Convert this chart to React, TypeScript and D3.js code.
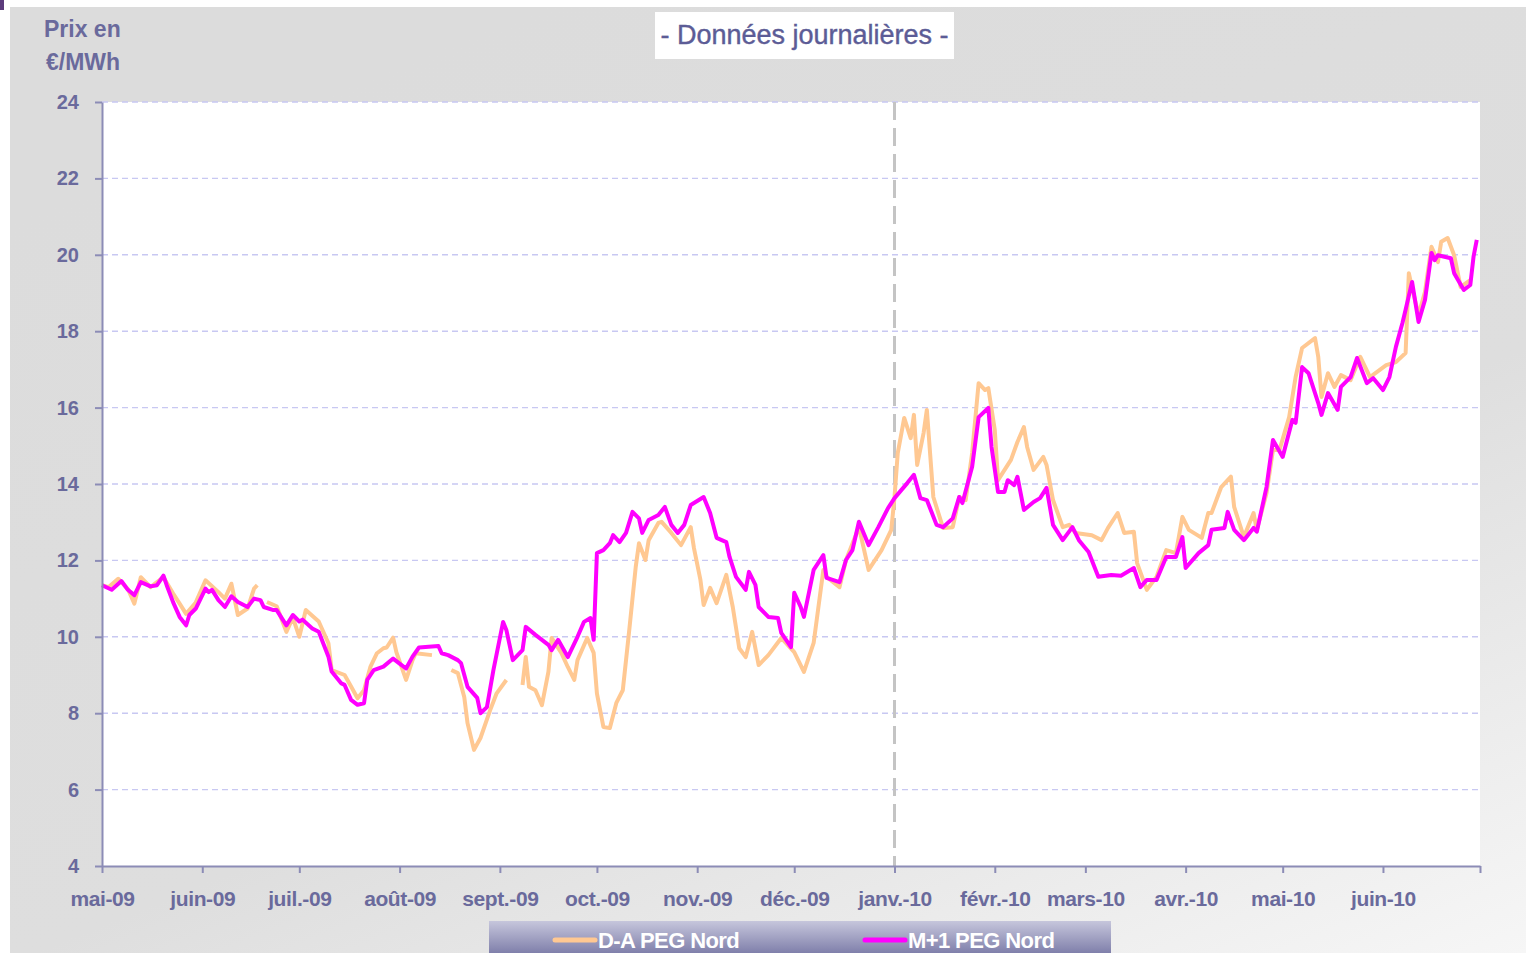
import * as d3 from "d3";
import { useEffect, useRef } from "react";

const yTicks = [4, 6, 8, 10, 12, 14, 16, 18, 20, 22, 24];
const monthTicks = [
  "2009-05-01", "2009-06-01", "2009-07-01", "2009-08-01", "2009-09-01", "2009-10-01", "2009-11-01",
  "2009-12-01", "2010-01-01", "2010-02-01", "2010-03-01", "2010-04-01", "2010-05-01", "2010-06-01",
];
const monthLabels = [
  "mai-09", "juin-09", "juil.-09", "août-09", "sept.-09", "oct.-09", "nov.-09",
  "déc.-09", "janv.-10", "févr.-10", "mars-10", "avr.-10", "mai-10", "juin-10",
];
const seriesNames = ["D-A PEG Nord", "M+1 PEG Nord"];

// D-A PEG Nord (null = gap in the series)
const daDates = [
  "2009-05-01", "2009-05-03", "2009-05-06", "2009-05-09", "2009-05-11", "2009-05-13", "2009-05-16", "2009-05-20",
  "2009-05-23", "2009-05-25", "2009-05-27", "2009-05-30", "2009-06-02", "2009-06-06", "2009-06-08", "2009-06-10",
  "2009-06-12", "2009-06-15", "2009-06-17", "2009-06-18", "2009-06-20", "2009-06-21", "2009-06-24", "2009-06-27",
  "2009-06-29", "2009-07-01", "2009-07-03", "2009-07-07", "2009-07-10", "2009-07-11", "2009-07-15", "2009-07-17",
  "2009-07-19", "2009-07-21", "2009-07-23", "2009-07-25", "2009-07-27", "2009-07-28", "2009-07-30", "2009-07-31",
  "2009-08-03", "2009-08-05", "2009-08-06", "2009-08-11", "2009-08-13", "2009-08-17", "2009-08-19", "2009-08-21",
  "2009-08-22", "2009-08-24", "2009-08-26", "2009-08-29", "2009-08-31", "2009-09-03", "2009-09-05", "2009-09-08",
  "2009-09-09", "2009-09-10", "2009-09-12", "2009-09-14", "2009-09-16", "2009-09-17", "2009-09-20", "2009-09-22",
  "2009-09-24", "2009-09-25", "2009-09-28", "2009-09-30", "2009-10-01", "2009-10-03", "2009-10-05", "2009-10-07",
  "2009-10-09", "2009-10-11", "2009-10-13", "2009-10-14", "2009-10-16", "2009-10-17", "2009-10-20", "2009-10-21",
  "2009-10-24", "2009-10-27", "2009-10-30", "2009-10-31", "2009-11-02", "2009-11-03", "2009-11-05", "2009-11-07",
  "2009-11-10", "2009-11-12", "2009-11-14", "2009-11-16", "2009-11-18", "2009-11-20", "2009-11-23", "2009-11-27",
  "2009-12-01", "2009-12-04", "2009-12-07", "2009-12-10", "2009-12-11", "2009-12-15", "2009-12-17", "2009-12-21",
  "2009-12-24", "2009-12-28", "2009-12-31", "2010-01-01", "2010-01-02", "2010-01-04", "2010-01-06", "2010-01-07",
  "2010-01-08", "2010-01-10", "2010-01-11", "2010-01-13", "2010-01-16", "2010-01-19", "2010-01-21", "2010-01-23",
  "2010-01-25", "2010-01-27", "2010-01-29", "2010-01-30", "2010-02-01", "2010-02-02", "2010-02-06", "2010-02-08",
  "2010-02-10", "2010-02-11", "2010-02-13", "2010-02-16", "2010-02-17", "2010-02-19", "2010-02-22", "2010-02-24",
  "2010-02-26", "2010-03-03", "2010-03-06", "2010-03-08", "2010-03-11", "2010-03-13", "2010-03-16", "2010-03-17",
  "2010-03-20", "2010-03-23", "2010-03-26", "2010-03-29", "2010-03-31", "2010-04-02", "2010-04-06", "2010-04-08",
  "2010-04-09", "2010-04-12", "2010-04-15", "2010-04-16", "2010-04-19", "2010-04-22", "2010-04-23", "2010-04-26",
  "2010-04-28", "2010-04-30", "2010-05-03", "2010-05-05", "2010-05-07", "2010-05-11", "2010-05-12", "2010-05-13",
  "2010-05-15", "2010-05-17", "2010-05-19", "2010-05-22", "2010-05-25", "2010-05-28", "2010-06-02", "2010-06-05",
  "2010-06-08", "2010-06-09", "2010-06-10", "2010-06-12", "2010-06-14", "2010-06-16", "2010-06-18", "2010-06-19",
  "2010-06-21", "2010-06-23", "2010-06-25", "2010-06-28",
];
const daValues = [
  11.35, 11.3, 11.52, 11.25, 10.87, 11.56, 11.3, 11.56,
  11.13, 10.87, 10.6, 10.9, 11.48, 11.17, 11.0, 11.39,
  10.57, 10.74, 11.26, 11.35, null, 10.91, 10.8, 10.13,
  10.5, 10.0, 10.7, 10.4, 9.83, 9.13, 9.0, 8.7,
  8.39, 8.6, 9.22, 9.57, 9.7, 9.72, 9.98, 9.6,
  8.87, 9.39, 9.57, 9.52, null, 9.13, 9.05, 8.42,
  7.74, 7.04, 7.35, 8.08, 8.52, 8.87, null, 8.74,
  9.47, 8.69, 8.6, 8.21, 9.08, 9.97, 9.58, 9.21,
  8.87, 9.39, 9.97, 9.58, 8.52, 7.64, 7.61, 8.27,
  8.6, 10.18, 11.83, 12.45, 12.01, 12.53, 12.98, 13.01,
  12.72, 12.4, 12.87, 12.32, 11.49, 10.83, 11.28, 10.88,
  11.62, 10.78, 9.7, 9.47, 10.13, 9.26, 9.52, 9.97,
  9.6, 9.08, 9.84, 11.75, 11.57, 11.3, 12.01, 12.87,
  11.75, 12.27, 12.8, 13.66, 14.81, 15.73, 15.2, 15.81,
  14.5, 15.34, 15.94, 13.66, 12.85, 12.87, 13.66, 13.58,
  14.81, 16.64, 16.46, 16.51, 15.41, 14.1, 14.63, 15.1,
  15.49, 14.97, 14.37, 14.71, 14.5, 13.58, 12.87, 12.93,
  12.72, 12.66, 12.53, 12.85, 13.24, 12.72, 12.75, 11.93,
  11.23, 11.57, 12.27, 12.19, 13.14, 12.8, 12.59, 13.24,
  13.24, 13.92, 14.19, 13.4, 12.61, 13.24, 12.8, 13.76,
  14.89, 14.89, 15.75, 16.8, 17.56, 17.82, 17.33, 16.28,
  16.9, 16.54, 16.85, 16.72, 17.33, 16.8, 17.11, 17.19,
  17.43, 19.52, 19.13, 18.43, 19.03, 20.21, 19.81, 20.34,
  20.44, 19.99, 19.16, 19.34,
];

// M+1 PEG Nord
const m1Dates = [
  "2009-05-01", "2009-05-04", "2009-05-07", "2009-05-09", "2009-05-11", "2009-05-13", "2009-05-16", "2009-05-18",
  "2009-05-20", "2009-05-21", "2009-05-23", "2009-05-25", "2009-05-27", "2009-05-28", "2009-05-30", "2009-06-02",
  "2009-06-03", "2009-06-04", "2009-06-06", "2009-06-08", "2009-06-10", "2009-06-12", "2009-06-15", "2009-06-17",
  "2009-06-19", "2009-06-20", "2009-06-23", "2009-06-24", "2009-06-27", "2009-06-29", "2009-07-01", "2009-07-02",
  "2009-07-05", "2009-07-07", "2009-07-10", "2009-07-11", "2009-07-14", "2009-07-15", "2009-07-17", "2009-07-19",
  "2009-07-21", "2009-07-22", "2009-07-23", "2009-07-24", "2009-07-27", "2009-07-30", "2009-08-01", "2009-08-03",
  "2009-08-05", "2009-08-07", "2009-08-13", "2009-08-14", "2009-08-16", "2009-08-19", "2009-08-20", "2009-08-22",
  "2009-08-25", "2009-08-26", "2009-08-28", "2009-08-30", "2009-09-02", "2009-09-03", "2009-09-05", "2009-09-08",
  "2009-09-09", "2009-09-12", "2009-09-16", "2009-09-17", "2009-09-19", "2009-09-22", "2009-09-25", "2009-09-27",
  "2009-09-29", "2009-09-30", "2009-10-01", "2009-10-03", "2009-10-05", "2009-10-06", "2009-10-08", "2009-10-10",
  "2009-10-12", "2009-10-14", "2009-10-15", "2009-10-17", "2009-10-20", "2009-10-22", "2009-10-24", "2009-10-26",
  "2009-10-28", "2009-10-30", "2009-11-03", "2009-11-05", "2009-11-07", "2009-11-10", "2009-11-11", "2009-11-13",
  "2009-11-16", "2009-11-17", "2009-11-19", "2009-11-20", "2009-11-23", "2009-11-26", "2009-11-27", "2009-11-30",
  "2009-12-01", "2009-12-03", "2009-12-04", "2009-12-07", "2009-12-10", "2009-12-11", "2009-12-15", "2009-12-17",
  "2009-12-19", "2009-12-21", "2009-12-24", "2009-12-27", "2009-12-30", "2010-01-01", "2010-01-05", "2010-01-07",
  "2010-01-09", "2010-01-11", "2010-01-14", "2010-01-16", "2010-01-19", "2010-01-21", "2010-01-22", "2010-01-25",
  "2010-01-27", "2010-01-30", "2010-01-31", "2010-02-02", "2010-02-04", "2010-02-05", "2010-02-07", "2010-02-08",
  "2010-02-10", "2010-02-13", "2010-02-15", "2010-02-17", "2010-02-19", "2010-02-22", "2010-02-25", "2010-02-27",
  "2010-03-02", "2010-03-05", "2010-03-09", "2010-03-12", "2010-03-16", "2010-03-18", "2010-03-20", "2010-03-23",
  "2010-03-26", "2010-03-29", "2010-03-31", "2010-04-01", "2010-04-05", "2010-04-08", "2010-04-09", "2010-04-13",
  "2010-04-14", "2010-04-16", "2010-04-19", "2010-04-22", "2010-04-23", "2010-04-26", "2010-04-28", "2010-05-01",
  "2010-05-04", "2010-05-05", "2010-05-07", "2010-05-09", "2010-05-12", "2010-05-13", "2010-05-15", "2010-05-18",
  "2010-05-19", "2010-05-22", "2010-05-24", "2010-05-27", "2010-05-29", "2010-06-01", "2010-06-03", "2010-06-05",
  "2010-06-07", "2010-06-08", "2010-06-10", "2010-06-12", "2010-06-14", "2010-06-16", "2010-06-17", "2010-06-18",
  "2010-06-22", "2010-06-23", "2010-06-26", "2010-06-28", "2010-06-29", "2010-06-30",
];
const m1Values = [
  11.35, 11.23, 11.46, 11.23, 11.09, 11.43, 11.32, 11.35,
  11.6, 11.35, 10.9, 10.52, 10.3, 10.57, 10.74, 11.26,
  11.17, 11.23, 10.96, 10.78, 11.06, 10.91, 10.78, 11.0,
  10.96, 10.78, 10.7, 10.7, 10.3, 10.57, 10.4, 10.45,
  10.22, 10.13, 9.48, 9.09, 8.78, 8.74, 8.35, 8.22,
  8.26, 8.87, 9.0, 9.13, 9.22, 9.43, 9.3, 9.17,
  9.48, 9.72, 9.76, 9.57, 9.52, 9.39, 9.31, 8.69,
  8.4, 8.0, 8.16, 9.13, 10.39, 10.18, 9.39, 9.65,
  10.26, 10.05, 9.79, 9.65, 9.92, 9.47, 10.0, 10.39,
  10.49, 9.92, 12.19, 12.27, 12.45, 12.66, 12.48, 12.72,
  13.27, 13.1, 12.72, 13.06, 13.19, 13.4, 12.93, 12.72,
  12.93, 13.45, 13.66, 13.24, 12.59, 12.48, 12.09, 11.57,
  11.23, 11.7, 11.36, 10.78, 10.52, 10.49, 10.1, 9.73,
  11.15, 10.78, 10.52, 11.75, 12.14, 11.54, 11.43, 12.01,
  12.27, 13.01, 12.4, 12.87, 13.37, 13.63, 14.03, 14.24,
  13.63, 13.58, 12.93, 12.87, 13.1, 13.66, 13.5, 14.45,
  15.75, 15.99, 14.97, 13.79, 13.79, 14.1, 13.97, 14.19,
  13.32, 13.53, 13.63, 13.9, 12.93, 12.53, 12.87, 12.53,
  12.22, 11.57, 11.62, 11.6, 11.8, 11.3, 11.49, 11.49,
  12.09, 12.09, 12.61, 11.8, 12.19, 12.4, 12.8, 12.85,
  13.27, 12.8, 12.53, 12.85, 12.75, 13.92, 15.15, 14.71,
  15.68, 15.6, 17.06, 16.9, 16.12, 15.81, 16.38, 15.94,
  16.54, 16.8, 17.3, 16.64, 16.77, 16.46, 16.8, 17.59,
  18.21, 18.56, 19.29, 18.24, 18.82, 20.05, 19.86, 19.99,
  19.91, 19.52, 19.08, 19.21, 19.95, 20.39,
];

type Pt = { d: Date; v: number | null };

const W = 1526;
const H = 953;
const labelColor = "#6a6a9c";
const sans = "'Liberation Sans', Arial, sans-serif";

export default function App() {
  const ref = useRef<SVGSVGElement | null>(null);

  useEffect(() => {
    const el = ref.current;
    if (!el) return;
    const svg = d3.select(el);
    svg.selectAll("*").remove();

    const parse = d3.utcParse("%Y-%m-%d");
    const margin = { top: 102, right: 46, bottom: 87, left: 102 };
    const x = d3
      .scaleUtc()
      .domain([parse("2009-05-01") as Date, parse("2010-07-01") as Date])
      .range([margin.left, W - margin.right]);
    const y = d3.scaleLinear().domain([4, 24]).range([H - margin.bottom, margin.top]);

    const da: Pt[] = daDates.map((s, i) => ({ d: parse(s) as Date, v: daValues[i] }));
    const m1: Pt[] = m1Dates.map((s, i) => ({ d: parse(s) as Date, v: m1Values[i] }));

    const defs = svg.append("defs");
    const bg = defs
      .append("linearGradient")
      .attr("id", "bg")
      .attr("x1", 0.35).attr("y1", 0).attr("x2", 1).attr("y2", 1);
    bg.append("stop").attr("offset", "0%").attr("stop-color", "#dcdcdc");
    bg.append("stop").attr("offset", "55%").attr("stop-color", "#dedede");
    bg.append("stop").attr("offset", "100%").attr("stop-color", "#f6f6f6");
    const lg = defs
      .append("linearGradient")
      .attr("id", "lg")
      .attr("x1", 0).attr("y1", 0).attr("x2", 0).attr("y2", 1);
    lg.append("stop").attr("offset", "0%").attr("stop-color", "#c6c6dc");
    lg.append("stop").attr("offset", "100%").attr("stop-color", "#6e6e9e");

    svg.append("rect").attr("width", W).attr("height", H).attr("fill", "#ffffff");
    svg.append("rect").attr("x", 10).attr("y", 7).attr("width", W - 10).attr("height", H - 7).attr("fill", "url(#bg)");
    svg.append("rect").attr("x", 0).attr("y", 0).attr("width", 4).attr("height", 10).attr("fill", "#5c3c7c");

    const [x0, x1] = x.range();
    const [yb, yt] = y.range();
    svg.append("rect").attr("x", x0).attr("y", yt).attr("width", x1 - x0).attr("height", yb - yt).attr("fill", "#ffffff");

    // gridlines
    svg
      .append("g")
      .selectAll("line")
      .data(yTicks.filter((t) => t > 4))
      .join("line")
      .attr("x1", x0)
      .attr("x2", x1)
      .attr("y1", (d) => y(d))
      .attr("y2", (d) => y(d))
      .attr("stroke", "#c8c8f2")
      .attr("stroke-width", 1.4)
      .attr("stroke-dasharray", "6,4");

    // year separator
    const jan = x(parse("2010-01-01") as Date);
    svg
      .append("line")
      .attr("x1", jan).attr("x2", jan)
      .attr("y1", yt).attr("y2", yb)
      .attr("stroke", "#c4c4c4")
      .attr("stroke-width", 3)
      .attr("stroke-dasharray", "18,8");

    const line = d3
      .line<Pt>()
      .defined((p) => p.v !== null)
      .x((p) => x(p.d))
      .y((p) => y(p.v as number));

    svg
      .append("path")
      .datum(da)
      .attr("fill", "none")
      .attr("stroke", "#ffc892")
      .attr("stroke-width", 4)
      .attr("stroke-linejoin", "round")
      .attr("d", line);
    svg
      .append("path")
      .datum(m1)
      .attr("fill", "none")
      .attr("stroke", "#ff00ff")
      .attr("stroke-width", 4)
      .attr("stroke-linejoin", "round")
      .attr("d", line);

    // axes
    svg
      .append("g")
      .attr("transform", `translate(${x0},0)`)
      .call(d3.axisLeft(y).tickValues(yTicks).tickSize(7).tickPadding(16).tickSizeOuter(0))
      .call((g) => g.select(".domain").attr("stroke", "#8c8cb6").attr("stroke-width", 2))
      .call((g) => g.selectAll(".tick line").attr("stroke", "#8c8cb6").attr("stroke-width", 2))
      .call((g) =>
        g
          .selectAll(".tick text")
          .attr("fill", labelColor)
          .attr("font-family", sans)
          .attr("font-weight", "bold")
          .attr("font-size", 20),
      );

    const tickDates = monthTicks.map((s) => parse(s) as Date);
    svg
      .append("g")
      .attr("transform", `translate(0,${yb})`)
      .call(
        d3
          .axisBottom(x)
          .tickValues([...tickDates, x.domain()[1]])
          .tickSize(7)
          .tickPadding(18)
          .tickSizeOuter(0)
          .tickFormat((_, i) => monthLabels[i] ?? ""),
      )
      .call((g) => g.select(".domain").attr("stroke", "#8c8cb6").attr("stroke-width", 2))
      .call((g) => g.selectAll(".tick line").attr("stroke", "#8c8cb6").attr("stroke-width", 2))
      .call((g) =>
        g
          .selectAll(".tick text")
          .attr("fill", labelColor)
          .attr("font-family", sans)
          .attr("font-weight", "bold")
          .attr("font-size", 21)
          .attr("letter-spacing", -0.4),
      );

    // y title
    const yTitle = svg
      .append("text")
      .attr("fill", labelColor)
      .attr("font-family", sans)
      .attr("font-weight", "bold")
      .attr("font-size", 23);
    yTitle.append("tspan").attr("x", 44).attr("y", 37).text("Prix en");
    yTitle.append("tspan").attr("x", 46).attr("y", 70).text("€/MWh");

    // chart title
    svg.append("rect").attr("x", 655).attr("y", 12).attr("width", 299).attr("height", 47).attr("fill", "#ffffff");
    svg
      .append("text")
      .attr("x", 804.5)
      .attr("y", 44)
      .attr("text-anchor", "middle")
      .attr("fill", "#5c5c96")
      .attr("font-family", sans)
      .attr("font-size", 27)
      .attr("stroke", "#5c5c96")
      .attr("stroke-width", 0.4)
      .text("- Données journalières -");

    // legend
    const leg = svg.append("g");
    leg.append("rect").attr("x", 489).attr("y", 921).attr("width", 622).attr("height", 40).attr("fill", "url(#lg)");
    const legItems = [
      { x: 555, color: "#ffc892" },
      { x: 865, color: "#ff00ff" },
    ];
    legItems.forEach((it, i) => {
      leg
        .append("line")
        .attr("x1", it.x).attr("x2", it.x + 40)
        .attr("y1", 940).attr("y2", 940)
        .attr("stroke", it.color)
        .attr("stroke-width", 5)
        .attr("stroke-linecap", "round");
      leg
        .append("text")
        .attr("x", it.x + 43)
        .attr("y", 948)
        .attr("fill", "#ffffff")
        .attr("font-family", sans)
        .attr("font-weight", "bold")
        .attr("font-size", 22)
        .attr("letter-spacing", -0.6)
        .text(seriesNames[i]);
    });
  }, []);

  return (
    <div style={{ position: "absolute", left: 0, top: 0 }}>
      <svg ref={ref} width={W} height={H} style={{ display: "block" }} />
    </div>
  );
}
